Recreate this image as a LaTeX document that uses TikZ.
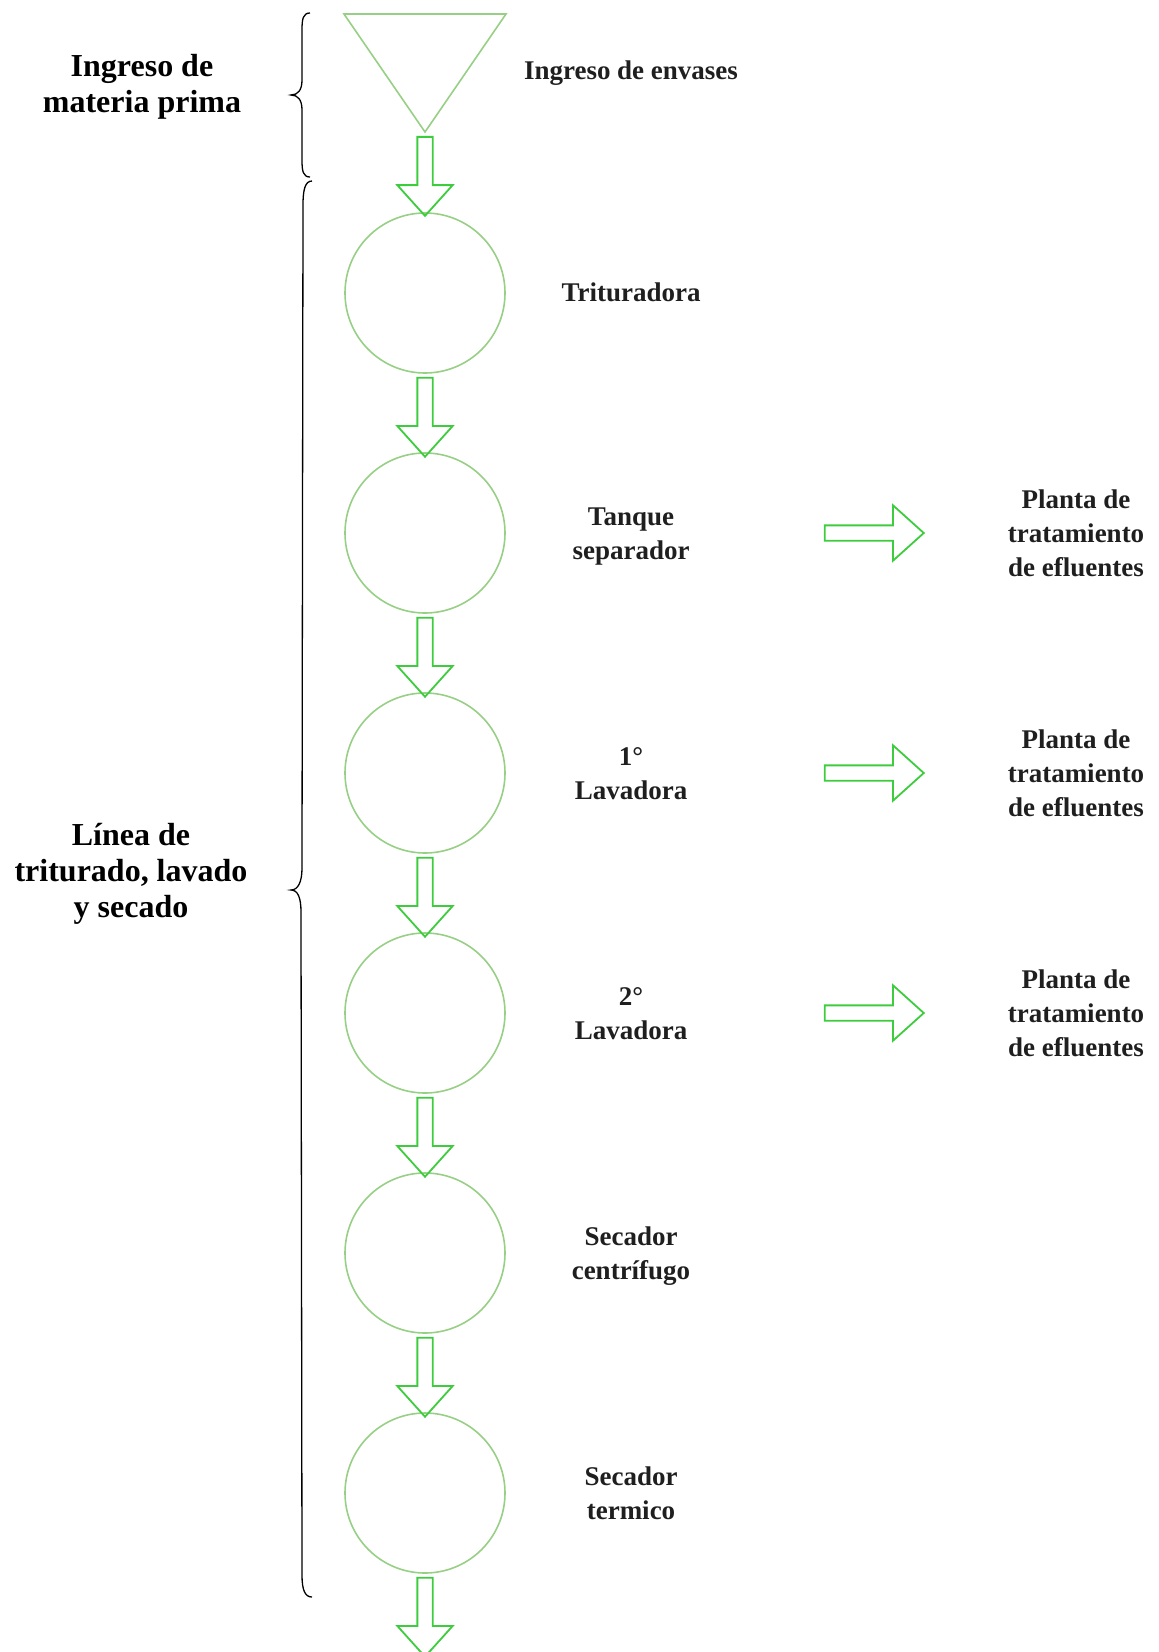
\documentclass[tikz,border=0pt]{standalone}
\usepackage{fontspec}
\setmainfont{Liberation Serif}
\usetikzlibrary{shapes.arrows,calc}
\definecolor{unitgreen}{HTML}{97CF84}
\definecolor{flowgreen}{HTML}{3DCC3D}
\begin{document}
\begin{tikzpicture}[x=1pt,y=-1pt,
  unit/.style={draw=unitgreen, line width=1.6pt, circle, minimum size=160pt, inner sep=0pt},
  flow/.style={single arrow, draw=flowgreen, line width=1.8pt, inner xsep=0pt, inner ysep=6.75pt,
    minimum width=0pt, single arrow head extend=20pt, single arrow tip angle=84,
    single arrow head indent=0pt, anchor=center},
  vflow/.style={flow, minimum height=79pt, rotate=-90},
  hflow/.style={flow, minimum height=99pt},
  lbl/.style={font=\bfseries\fontsize{27}{34}\selectfont, text=black!88, align=center, inner sep=0pt},
  side/.style={font=\bfseries\fontsize{32}{36}\selectfont, text=black, align=center, inner sep=0pt},
  bracket/.style={line width=1.3pt, black}]
\useasboundingbox (0,0) rectangle (1159,1652);

% feed hopper
\coordinate (hopL) at (344,14);
\coordinate (hopR) at (506,14);
\coordinate (hopTip) at (425,132);
\draw[draw=unitgreen, line width=1.6pt, line join=miter] (hopL) -- (hopR) -- (hopTip) -- cycle;
\node[lbl] (tIn) at (631,73) {Ingreso de envases};

% process units
\foreach \i/\y in {1/293,2/533,3/773,4/1013,5/1253,6/1493}
  \node[unit] (c\i) at (425,\y) {};

\node[lbl] (t1) at (631,292) {Trituradora};
\node[lbl] (t2) at (631,537) {Tanque\\separador};
\node[lbl] (t3) at (631,774) {1°\\Lavadora};
\node[lbl] (t4) at (631,1014) {2°\\Lavadora};
\node[lbl] (t5) at (631,1256) {Secador\\centrífugo};
\node[lbl] (t6) at (631,1493) {Secador\\termico};

% vertical flow arrows
\coordinate (out) at (425,1652);
\path (hopTip) -- (c1.north) node[midway, vflow] (a0) {};
\path (c1.south) -- (c2.north) node[midway, vflow] (a1) {};
\path (c2.south) -- (c3.north) node[midway, vflow] (a2) {};
\path (c3.south) -- (c4.north) node[midway, vflow] (a3) {};
\path (c4.south) -- (c5.north) node[midway, vflow] (a4) {};
\path (c5.south) -- (c6.north) node[midway, vflow] (a5) {};
\path (c6.south) -- (out) node[midway, vflow] (a6) {};

% effluent outlets
\foreach \i/\y in {2/533,3/773,4/1013}{
  \node[hflow] (e\i) at (870,\y) {};
  \node[lbl] (p\i) at (1076,\y) {Planta de\\tratamiento\\de efluentes};
}

% stage braces
\node[side] (sIn) at (142,87) {Ingreso de\\materia prima};
\node[side] (sLine) at (131,874) {Línea de\\triturado, lavado\\y secado};

\draw[bracket] (310,13) .. controls (303,13) and (302,19) .. (302,30) -- (302,80)
  .. controls (302,90) and (298,95) .. (291,95)
  .. controls (298,95) and (302,100) .. (302,110) -- (302,160)
  .. controls (302,171) and (303,177) .. (310,177);
\draw[bracket] (312,181) .. controls (305,181) and (303,190) .. (303,205) -- (302,868)
  .. controls (302,882) and (298,890) .. (291,890)
  .. controls (298,890) and (301,898) .. (301,912) -- (302,1575)
  .. controls (302,1590) and (305,1597) .. (312,1597);
\end{tikzpicture}
\end{document}
